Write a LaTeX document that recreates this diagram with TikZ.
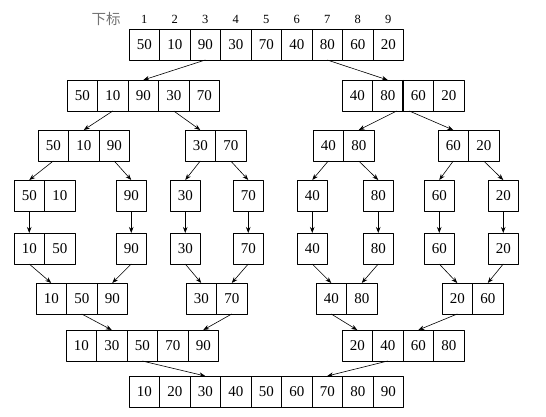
\documentclass[tikz,border=0pt]{standalone}
\usepackage{fontspec}
\setmainfont{Liberation Serif}
\newfontfamily\cjk{Noto Sans CJK SC}
\usetikzlibrary{arrows.meta}
\begin{document}
\begin{tikzpicture}[x=1pt,y=-1pt,line join=round,>={Stealth[length=6pt,width=4.5pt]},
	cell/.style={draw,line width=0.8pt,minimum width=30.5pt,minimum height=31pt,inner sep=0pt,outer sep=0pt,font=\fontsize{15}{18}\selectfont},
	idx/.style={inner sep=0pt,font=\fontsize{12.5}{14}\selectfont}]
	\useasboundingbox (0,0) rectangle (546,417);
	\def\arr#1#2#3#4{\foreach \v [count=\i] in {#4} \node[cell] (#1-\i) at ({#2+(\i-0.5)*30.5},{#3+15.5}) {\v};}
	% top row with indices
	\arr{A0}{129}{29}{50,10,90,30,70,40,80,60,20}
	\foreach \i in {1,...,9} \node[idx] (idx-\i) at ({129+(\i-0.5)*30.5},19) {\i};
	\node[font=\cjk\fontsize{14.5}{16}\selectfont,text=black!55,inner sep=0pt] (sub) at (106,19) {下标};
	% split
	\arr{L1}{67}{80}{50,10,90,30,70}  \arr{R1}{342}{80}{40,80,60,20}
	\arr{L2a}{38}{130}{50,10,90} \arr{L2b}{185}{130}{30,70}
	\arr{R2a}{313}{130}{40,80} \arr{R2b}{438}{130}{60,20}
	\arr{L3a}{14}{180}{50,10} \arr{L3b}{116}{180}{90} \arr{L3c}{170}{180}{30} \arr{L3d}{233}{180}{70}
	\arr{R3a}{297}{180}{40} \arr{R3b}{363}{180}{80} \arr{R3c}{424}{180}{60} \arr{R3d}{488}{180}{20}
	% merge
	\arr{L4a}{14}{233}{10,50} \arr{L4b}{116}{233}{90} \arr{L4c}{170}{233}{30} \arr{L4d}{233}{233}{70}
	\arr{R4a}{297}{233}{40} \arr{R4b}{363}{233}{80} \arr{R4c}{424}{233}{60} \arr{R4d}{488}{233}{20}
	\arr{L5a}{36}{283}{10,50,90} \arr{L5b}{186}{283}{30,70}
	\arr{R5a}{316}{283}{40,80} \arr{R5b}{442}{283}{20,60}
	\arr{L6}{66}{330}{10,30,50,70,90} \arr{R6}{342}{330}{20,40,60,80}
	\arr{F7}{129}{376}{10,20,30,40,50,60,70,80,90}
	\foreach \c in {A0-1,R1-2,L5b-1} \draw[line width=1.6pt] (\c.north east)--(\c.south east);
	% arrows
	\foreach \a/\b in {A0-3.south/L1-3.north,A0-7.south/R1-2.north,
		L1-2.south/L2a-2.north,L1-4.south/L2b-1.north,R1-2.-60/R2a-2.north,R1-3.-120/R2b-1.north,
		L2a-1.south/L3a-1.north,L2a-3.south/L3b-1.north,L2b-1.south/L3c-1.north,L2b-2.south/L3d-1.north,
		R2a-1.south/R3a-1.north,R2a-2.south/R3b-1.north,R2b-1.south/R3c-1.north,R2b-2.south/R3d-1.north,
		L3a-1.south/L4a-1.north,L3b-1.south/L4b-1.north,L3c-1.south/L4c-1.north,L3d-1.south/L4d-1.north,
		R3a-1.south/R4a-1.north,R3b-1.south/R4b-1.north,R3c-1.south/R4c-1.north,R3d-1.south/R4d-1.north,
		L4a-1.south/L5a-1.north,L4b-1.south/L5a-3.north,L4c-1.south/L5b-1.north,L4d-1.south/L5b-2.north,
		R4a-1.south/R5a-1.north,R4b-1.south/R5a-2.north,R4c-1.south/R5b-1.north,R4d-1.south/R5b-2.north,
		L5a-2.south/L6-2.north,L5b-2.south/L6-5.north,R5a-1.south/R6-1.north,R5b-1.south/R6-3.north,
		L6-3.south/F7-3.north,R6-2.south/F7-7.north}
		\draw[->,line width=0.6pt] (\a)--(\b);
\end{tikzpicture}
\end{document}
